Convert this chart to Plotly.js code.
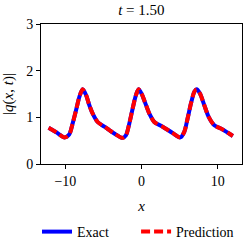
<!DOCTYPE html>
<html>
<head>
<meta charset="utf-8">
<script src="https://cdn.plot.ly/plotly-3.0.1.min.js"></script>
<style>html,body{margin:0;padding:0;background:#fff;}#chart{width:245px;height:245px;}</style>
</head>
<body>
<div id="chart"></div>
<script>
var xValues = [-12.2, -11.2, -10.1, -9.5, -9.04, -8.6, -8.16, -7.73, -7.29, -6.85, -6.41, -5.76, -4.88, -4.22, -3.57, -2.5, -2.03, -1.6, -1.16, -0.72, -0.38, 0.0, 0.44, 1.03, 1.68, 2.77, 4.09, 5.1, 5.62, 6.06, 6.5, 6.94, 7.24, 7.68, 8.25, 8.82, 9.56, 10.65, 12.0];
var exactY = [0.775, 0.68, 0.57, 0.63, 0.87, 1.15, 1.44, 1.60, 1.48, 1.26, 1.08, 0.90, 0.80, 0.725, 0.655, 0.56, 0.62, 0.87, 1.19, 1.48, 1.60, 1.51, 1.33, 1.08, 0.90, 0.80, 0.665, 0.57, 0.69, 0.98, 1.30, 1.55, 1.60, 1.51, 1.26, 1.01, 0.83, 0.74, 0.60];
var predY = [0.775, 0.68, 0.57, 0.63, 0.87, 1.15, 1.44, 1.60, 1.48, 1.26, 1.08, 0.90, 0.80, 0.725, 0.655, 0.56, 0.62, 0.87, 1.19, 1.48, 1.60, 1.51, 1.33, 1.08, 0.90, 0.80, 0.665, 0.57, 0.69, 0.98, 1.30, 1.55, 1.60, 1.51, 1.26, 1.01, 0.83, 0.74, 0.60];
var seriesNames = ["Exact", "Prediction"];
var titleText = "<i>t</i> = 1.50";
var xTitle = "<i>x</i>";
var yTitle = "|<i>q</i>(<i>x</i>, <i>t</i>)|";

var font = "Liberation Serif";
var traces = [
  {x: xValues, y: exactY, name: seriesNames[0], mode: "lines", legend: "legend",
   line: {color: "#0000ff", width: 4, shape: "spline", smoothing: 0.8}},
  {x: xValues, y: predY, name: seriesNames[1], mode: "lines", legend: "legend2",
   line: {color: "#ff0000", width: 4, dash: "9px,4px", shape: "spline", smoothing: 0.8}}
];
var legendCommon = {orientation: "h", xanchor: "left", yref: "container", y: 0.053, yanchor: "middle",
  font: {family: font, size: 14}, itemwidth: 30, bgcolor: "rgba(0,0,0,0)"};
var layout = {
  width: 245, height: 245,
  margin: {l: 41, r: 3, t: 24, b: 81},
  paper_bgcolor: "#fff", plot_bgcolor: "#fff",
  font: {family: font, size: 14, color: "#000"},
  title: {text: titleText, x: 0.577, xanchor: "center", y: 0.962, yanchor: "middle", font: {family: font, size: 15}},
  xaxis: {range: [-13.2, 13.2], dtick: 10, tick0: 0, showgrid: false, zeroline: false,
    showline: true, linecolor: "#000", linewidth: 1, mirror: true,
    ticks: "outside", ticklen: 4, tickwidth: 1, tickcolor: "#000",
    tickfont: {family: font, size: 14},
    title: {text: xTitle, font: {family: font, size: 15}, standoff: 12}},
  yaxis: {range: [0, 3], dtick: 1, tick0: 0, showgrid: false, zeroline: false,
    showline: true, linecolor: "#000", linewidth: 1, mirror: true,
    ticks: "outside", ticklen: 4, tickwidth: 1, tickcolor: "#000",
    tickfont: {family: font, size: 14},
    title: {text: yTitle, font: {family: font, size: 15}, standoff: 9}},
  showlegend: true,
  legend: Object.assign({}, legendCommon, {x: -0.02}),
  legend2: Object.assign({}, legendCommon, {x: 0.473})
};
Plotly.newPlot("chart", traces, layout, {displayModeBar: false, staticPlot: true});
</script>
</body>
</html>
